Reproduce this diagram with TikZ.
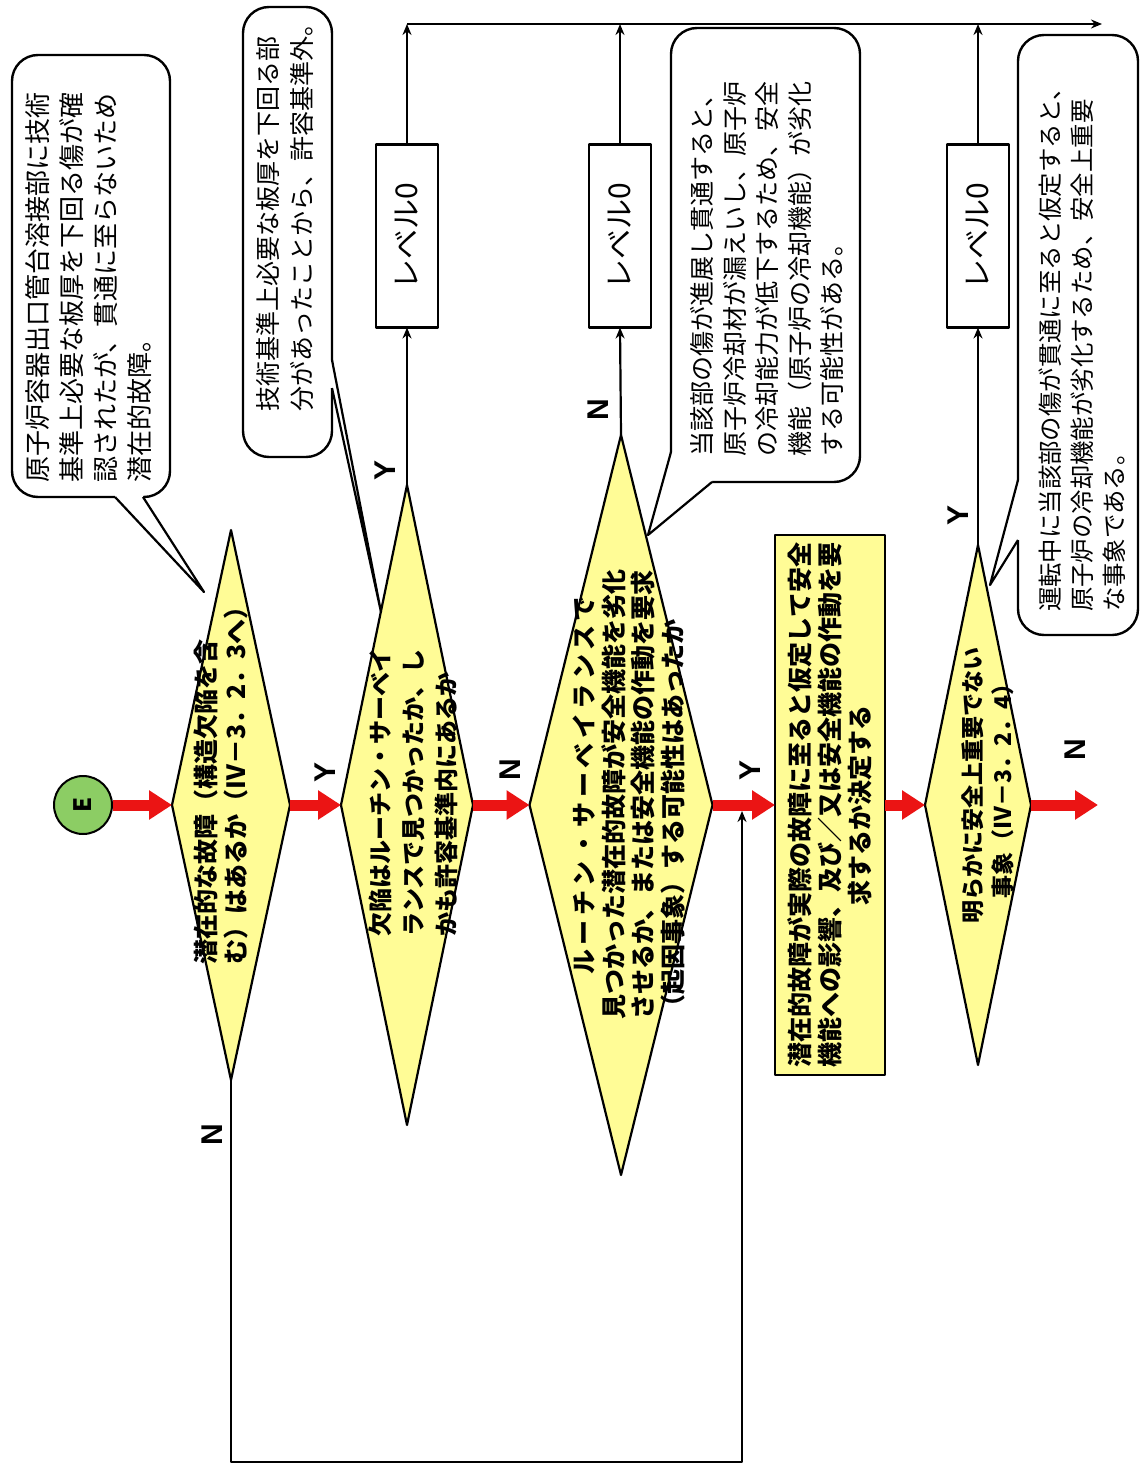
\documentclass[tikz,border=0pt]{standalone}
\usepackage{fontspec}
\setmainfont{Noto Sans CJK JP}
\newfontfamily\labfont{Liberation Sans}
\usetikzlibrary{shapes.geometric,arrows.meta}
\definecolor{dyel}{RGB}{255,252,150}
\definecolor{egreen}{RGB}{140,205,100}
\definecolor{rarrow}{RGB}{235,20,20}
\begin{document}
\begin{tikzpicture}[x=1pt,y=-1pt,line join=round,
 dia/.style={diamond,draw,line width=2.2pt,fill=dyel,inner sep=0pt,outer sep=0pt},
 dtext/.style={rotate=90,font=\bfseries\fontsize{25}{30}\selectfont,inner sep=0pt},
 callbox/.style={draw,line width=2.4pt,rounded corners=26pt,fill=white,inner sep=0pt,outer sep=0pt},
 ctext/.style={rotate=90,align=left,anchor=west,font=\fontsize{26}{34}\selectfont,inner sep=0pt},
 lvl/.style={rotate=90,draw,line width=2.4pt,fill=white,minimum width=183pt,minimum height=62pt,inner sep=0pt,outer sep=0pt,font=\fontsize{30}{30}\selectfont},
 yn/.style={rotate=90,font=\labfont\bfseries\fontsize{30}{30}\selectfont,inner sep=0pt},
 redarr/.style={draw=rarrow,line width=11pt,-{Triangle[length=23pt,width=28pt]}},
 blk/.style={line width=2.2pt,-{Stealth[length=11pt,width=9pt]}},
 ln/.style={line width=2.2pt}]

\fill[white] (0,0) rectangle (1140,1466);
\useasboundingbox (0,0) rectangle (1140,1466);

% start circle
\node[circle,draw,line width=2pt,fill=egreen,minimum size=58pt,inner sep=0pt,rotate=90,
      font=\bfseries\fontsize{24}{24}\selectfont] (E) at (83,805) {E};

% diamonds
\node[dia,minimum width=118pt,minimum height=550pt] (d1) at (231,805) {};
\node[dia,minimum width=132pt,minimum height=640pt] (d2) at (407,805) {};
\node[dia,minimum width=183pt,minimum height=740pt] (d3) at (621,805) {};
\node[dia,minimum width=106pt,minimum height=520pt] (d4) at (978,805) {};

% decision box
\node[rotate=90,draw,line width=2.2pt,fill=dyel,minimum width=540pt,minimum height=110pt,
      inner sep=0pt,outer sep=0pt,align=center,font=\bfseries\fontsize{25}{30}\selectfont]
      (R) at (830,805) {潜在的故障が実際の故障に至ると仮定して安全\\機能への影響、及び／又は安全機能の作動を要\\求するか決定する};

% level boxes
\node[lvl] (L1) at (407,236) {レベル0};
\node[lvl] (L2) at (620,236) {レベル0};
\node[lvl] (L3) at (978,236) {レベル0};

\coordinate (t1) at (407,24);
\coordinate (t2) at (620,24);
\coordinate (t3) at (978,24);
\coordinate (tend) at (1102,24);

% red flow arrows
\draw[redarr] (E) -- (d1.west);
\draw[redarr] (d1.east) -- (d2.west);
\draw[redarr] (d2.east) -- (d3.west);
\draw[redarr] (d3.east) -- (R.north);
\draw[redarr] (R.south) -- (d4.west);
\coordinate (out) at (1098,805);
\draw[redarr] (d4.east) -- (out);

% Y branches to level 0
\draw[blk] (d2.north) -- (L1.west);
\draw[blk] (d3.north) -- (L2.west);
\draw[blk] (d4.north) -- (L3.west);
\draw[blk] (L1.east) -- (t1);
\draw[blk] (L2.east) -- (t2);
\draw[blk] (L3.east) -- (t3);
\draw[blk] (t1) -- (tend);

% return loop
\coordinate (lc) at (742,1462);
\coordinate (lend) at (742,811);
\draw[blk] (d1.south) |- (lc) -- (lend);

% callouts
\node[callbox,minimum width=158pt,minimum height=442pt] (c1) at (91,276) {};
\coordinate (c1a) at (115,497); \coordinate (c1b) at (143,497); \coordinate (c1t) at (204,592);
\fill[white] (c1a) -- (c1t) -- (c1b) -- (143,491) -- (115,491) -- cycle;
\draw[ln] (c1a) -- (c1t) -- (c1b);

\node[callbox,minimum width=89pt,minimum height=450pt] (c2) at (287.5,232) {};
\coordinate (c2a) at (332,360); \coordinate (c2b) at (332,388); \coordinate (c2t) at (381,612);
\fill[white] (c2a) -- (c2t) -- (c2b) -- (326,388) -- (326,360) -- cycle;
\draw[ln] (c2a) -- (c2t) -- (c2b);

\node[callbox,minimum width=189pt,minimum height=454pt] (c3) at (765.5,255) {};
\coordinate (c3a) at (671,452); \coordinate (c3b) at (712,482); \coordinate (c3t) at (648,535);
\fill[white] (c3a) -- (c3t) -- (c3b) -- (712,476) -- (677,452) -- cycle;
\draw[ln] (c3a) -- (c3t) -- (c3b);

\node[callbox,minimum width=120pt,minimum height=600pt] (c4) at (1078,335) {};
\coordinate (c4a) at (1018,480); \coordinate (c4b) at (1018,540); \coordinate (c4t) at (990,585);
\fill[white] (c4a) -- (c4t) -- (c4b) -- (1024,540) -- (1024,480) -- cycle;
\draw[ln] (c4a) -- (c4t) -- (c4b);

% diamond texts
\node[dtext,anchor=west,align=left] (d1x) at (221,965) {潜在的な故障（構造欠陥を含\\む）はあるか（Ⅳ－3．2．3へ）};
\node[dtext,anchor=west,align=left,font=\bfseries\fontsize{24}{33}\selectfont] (d2x) at (413,937)
  {欠陥はルーチン・サーベイ\\ランスで見つかったか、し\\かも許容基準内にあるか};
\node[dtext,anchor=west,align=left,font=\bfseries\fontsize{25}{29.5}\selectfont] (d3x) at (629,1020)
  {\hspace*{45pt}{\addfontfeature{LetterSpace=18}ルーチン・サーベイランスで}\\見つかった潜在的故障が安全機能を劣化\\させるか、または安全機能の作動を要求\\（起因事象）する可能性はあったか};
\node[dtext,align=center,font=\bfseries\fontsize{23}{30}\selectfont] (d4x) at (988,785)
  {明らかに安全上重要でない\\事象（Ⅳ－3．2．4）};

% callout texts
\node[ctext] (c1x) at (89,483) {原子炉容器出口管台溶接部に技術\\基準上必要な板厚を下回る傷が確\\認されたが、貫通に至らないため\\潜在的故障。};
\node[ctext,font=\fontsize{25}{34}\selectfont] (c2x) at (285,412) {技術基準上必要な板厚を下回る部\\分があったことから、許容基準外。};
\node[ctext,font=\fontsize{25}{32.5}\selectfont] (c3x) at (767,457) {当該部の傷が進展し貫通すると、\\原子炉冷却材が漏えいし、原子炉\\の冷却能力が低下するため、安全\\機能（原子炉の冷却機能）が劣化\\する可能性がある。};
\node[ctext,font=\fontsize{24.4}{32}\selectfont] (c4x) at (1082,612) {運転中に当該部の傷が貫通に至ると仮定すると、\\原子炉の冷却機能が劣化するため、安全上重要\\な事象である。};

% Y / N labels
\node[yn] (y1) at (325,772) {Y};
\node[yn] (n1) at (212,1135) {N};
\node[yn] (y2) at (385,470) {Y};
\node[yn] (n2) at (510,770) {N};
\node[yn] (n3) at (598,410) {N};
\node[yn] (y3) at (750,770) {Y};
\node[yn] (y4) at (958,515) {Y};
\node[yn] (n4) at (1075,750) {N};
\end{tikzpicture}
\end{document}
